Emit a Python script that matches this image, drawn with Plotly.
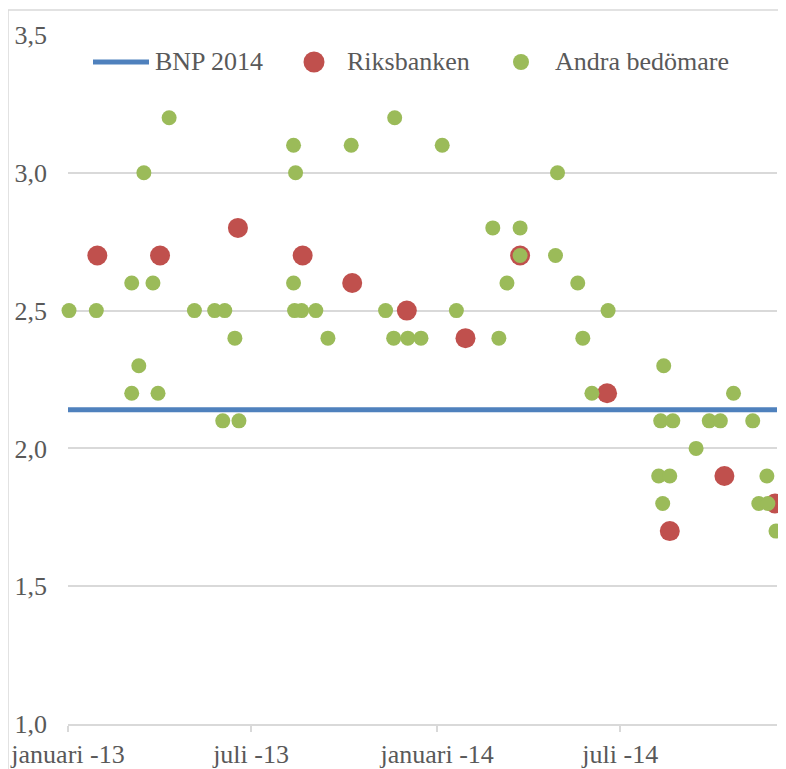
import plotly.graph_objects as go

# ---------------- data ----------------
bnp_dates = ["2013-01-01", "2014-12-03"]
bnp_values = [2.14, 2.14]

riks_dates = ["2013-01-30", "2013-04-02", "2013-06-18", "2013-08-21", "2013-10-09",
              "2013-12-02", "2014-01-29", "2014-03-24", "2014-06-18", "2014-08-19",
              "2014-10-12", "2014-12-01"]
riks_values = [2.7, 2.7, 2.8, 2.7, 2.6, 2.5, 2.4, 2.7, 2.2, 1.7, 1.9, 1.8]

andra_dates = ["2013-01-02", "2013-01-29", "2013-03-05", "2013-03-12", "2013-03-05",
               "2013-03-17", "2013-03-26", "2013-03-31", "2013-04-11", "2013-05-06",
               "2013-05-26", "2013-06-03", "2013-06-05", "2013-06-15", "2013-06-19",
               "2013-08-12", "2013-08-14", "2013-08-12", "2013-08-13", "2013-08-20",
               "2013-09-03", "2013-09-15", "2013-10-08", "2013-11-20", "2013-11-11",
               "2013-11-19", "2013-12-03", "2013-12-16", "2014-01-06", "2014-01-20",
               "2014-02-25", "2014-03-03", "2014-03-11", "2014-03-24", "2014-03-24",
               "2014-04-30", "2014-04-28", "2014-05-20", "2014-05-25", "2014-06-03",
               "2014-06-19", "2014-08-13", "2014-08-10", "2014-08-22", "2014-08-08",
               "2014-08-19", "2014-08-12", "2014-09-14", "2014-09-27", "2014-10-08",
               "2014-10-21", "2014-11-09", "2014-11-23", "2014-11-15", "2014-11-24",
               "2014-12-02"]
andra_values = [2.5, 2.5, 2.2, 2.3, 2.6,
                3.0, 2.6, 2.2, 3.2, 2.5,
                2.5, 2.1, 2.5, 2.4, 2.1,
                3.1, 3.0, 2.6, 2.5, 2.5,
                2.5, 2.4, 3.1, 3.2, 2.5,
                2.4, 2.4, 2.4, 3.1, 2.5,
                2.8, 2.4, 2.6, 2.8, 2.7,
                3.0, 2.7, 2.6, 2.4, 2.2,
                2.5, 2.3, 2.1, 2.1, 1.9,
                1.9, 1.8, 2.0, 2.1, 2.1,
                2.2, 2.1, 1.9, 1.8, 1.8,
                1.7]

tick_dates = ["2013-01-01", "2013-07-01", "2014-01-01", "2014-07-01"]
tick_labels = ["januari -13", "juli -13", "januari -14", "juli -14"]
y_ticks = [1.0, 1.5, 2.0, 2.5, 3.0, 3.5]

series_names = ["BNP 2014", "Riksbanken", "Andra bedömare"]

BLUE = "#4F81BD"
RED = "#C0504D"
GREEN = "#9BBB59"
TXT = "#595959"
GRID = "#D9D9D9"
FONT = "Liberation Serif"

fig = go.Figure()
fig.add_trace(go.Scatter(x=bnp_dates, y=bnp_values, mode="lines", name=series_names[0],
                         line=dict(color=BLUE, width=5), cliponaxis=False))
fig.add_trace(go.Scatter(x=riks_dates, y=riks_values, mode="markers", name=series_names[1],
                         marker=dict(color=RED, size=20, line=dict(width=0)), cliponaxis=False))
fig.add_trace(go.Scatter(x=andra_dates, y=andra_values, mode="markers", name=series_names[2],
                         marker=dict(color=GREEN, size=15, line=dict(width=0)), cliponaxis=False))

# page offset of the figure inside the browser window (body margin)
DX, DY = 8, 8
W, H = 786 - DX, 769 - DY
L, R, T, B = 60, 9, 27, 45
PW, PH = W - L - R, H - T - B


def px(xs):
    """screen pixel x -> paper x"""
    return (xs - DX - L) / PW


def py(ys):
    """screen pixel y -> paper y"""
    return (H - B - (ys - DY)) / PH


leg_y = py(62)
shapes = [
    # chart-area border
    dict(type="rect", xref="paper", yref="paper", x0=px(8), x1=px(820), y0=py(820), y1=py(10),
         line=dict(color=GRID, width=1.5), layer="below"),
    # manual legend symbols
    dict(type="line", xref="paper", yref="paper", x0=px(93), x1=px(149), y0=leg_y, y1=leg_y,
         line=dict(color=BLUE, width=5)),
    dict(type="circle", xref="paper", yref="paper", xsizemode="pixel", ysizemode="pixel",
         xanchor=px(314), yanchor=leg_y, x0=-10.5, x1=10.5, y0=-10.5, y1=10.5,
         fillcolor=RED, line=dict(width=0)),
    dict(type="circle", xref="paper", yref="paper", xsizemode="pixel", ysizemode="pixel",
         xanchor=px(521), yanchor=leg_y, x0=-8, x1=8, y0=-8, y1=8,
         fillcolor=GREEN, line=dict(width=0)),
]

annotations = [
    dict(text=series_names[0], x=px(153), y=leg_y, xref="paper", yref="paper",
         xanchor="left", yanchor="middle", showarrow=False, font=dict(size=26, color=TXT, family=FONT)),
    dict(text=series_names[1], x=px(345), y=leg_y, xref="paper", yref="paper",
         xanchor="left", yanchor="middle", showarrow=False, font=dict(size=26, color=TXT, family=FONT)),
    dict(text=series_names[2], x=px(553), y=leg_y, xref="paper", yref="paper",
         xanchor="left", yanchor="middle", showarrow=False, font=dict(size=26, color=TXT, family=FONT)),
    dict(text="Procent", x=px(8), y=py(11), xref="paper", yref="paper",
         xanchor="left", yanchor="bottom", showarrow=False, font=dict(size=26, color=TXT, family=FONT)),
]

fig.update_layout(
    template="none",
    width=W, height=H,
    margin=dict(l=L, r=R, t=T, b=B, autoexpand=False),
    paper_bgcolor="white", plot_bgcolor="white",
    showlegend=False,
    separators=", ",
    font=dict(family=FONT, size=26, color=TXT),
    shapes=shapes,
    annotations=annotations,
    xaxis=dict(type="date", range=["2013-01-01", "2014-12-03"], automargin=False,
               tickmode="array", tickvals=tick_dates, ticktext=tick_labels,
               ticks="outside", ticklen=6, tickcolor=GRID, tickwidth=1.5,
               showline=True, linecolor=GRID, linewidth=1.5,
               showgrid=False, zeroline=False,
               tickfont=dict(family=FONT, size=26, color=TXT)),
    yaxis=dict(range=[1.0, 3.5], tickmode="array", tickvals=y_ticks, automargin=False,
               tickformat=".1f", showgrid=True, gridcolor=GRID, gridwidth=1.5,
               zeroline=False, showline=False, ticks="",
               ticklabelstandoff=20,
               tickfont=dict(family=FONT, size=26, color=TXT)),
)

fig.write_html("out.html")
